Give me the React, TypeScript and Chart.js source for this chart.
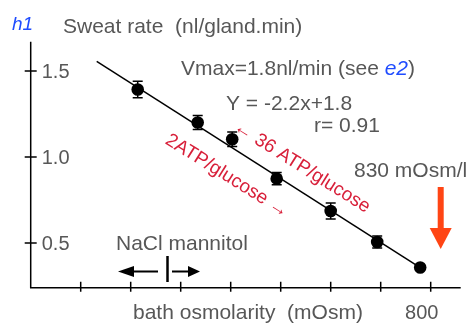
import { useEffect, useRef } from "react";
import { Chart, registerables } from "chart.js";

Chart.register(...registerables);

// ---- data ----
const osmolarity = [214, 334, 403, 492, 600, 693, 779];
const sweatRate = [1.392, 1.2, 1.103, 0.874, 0.686, 0.506, 0.357];
const sweatErr = [0.048, 0.041, 0.042, 0.035, 0.047, 0.035, 0];
const fitX = [132, 779];
const fitY = [1.556, 0.357];
const yTicks = [0.5, 1.0, 1.5];
const yTickLabels = ["0.5", "1.0", "1.5"];
const xTicks = [100, 200, 300, 400, 500, 600, 700, 800];
const xTickLabels = ["", "", "", "", "", "", "", "800"];
const markerOsm = 820;

const FONT = "'Liberation Sans', Arial, Helvetica, sans-serif";
const GRAY = "#575757";
const BLUE = "#1f4cff";
const RED = "#d8203a";
const ORANGE = "#ff4514";

const overlay = {
  id: "overlay",
  beforeDatasetsDraw(chart: any) {
    const ctx = chart.ctx;
    const xs = chart.scales.x;
    const ys = chart.scales.y;
    ctx.save();
    ctx.strokeStyle = "#000";
    ctx.lineWidth = 1.5;
    osmolarity.forEach((x, i) => {
      const e = sweatErr[i];
      if (!e) return;
      const px = xs.getPixelForValue(x);
      const top = ys.getPixelForValue(sweatRate[i] + e);
      const bot = ys.getPixelForValue(sweatRate[i] - e);
      ctx.beginPath();
      ctx.moveTo(px, top);
      ctx.lineTo(px, bot);
      ctx.moveTo(px - 5, top);
      ctx.lineTo(px + 5, top);
      ctx.moveTo(px - 5, bot);
      ctx.lineTo(px + 5, bot);
      ctx.stroke();
    });
    ctx.restore();
  },
  afterDraw(chart: any) {
    const ctx = chart.ctx;
    const xs = chart.scales.x;
    const ys = chart.scales.y;
    const ca = chart.chartArea;
    ctx.save();
    // axes
    ctx.strokeStyle = "#000";
    ctx.lineWidth = 1.5;
    ctx.beginPath();
    ctx.moveTo(ca.left, ca.top);
    ctx.lineTo(ca.left, ca.bottom);
    ctx.lineTo(ca.right, ca.bottom);
    ctx.stroke();
    // x ticks
    ctx.beginPath();
    xTicks.forEach((v) => {
      const px = xs.getPixelForValue(v);
      ctx.moveTo(px, ca.bottom - 6);
      ctx.lineTo(px, ca.bottom + 4);
    });
    // y ticks
    yTicks.forEach((v) => {
      const py = ys.getPixelForValue(v);
      ctx.moveTo(ca.left - 6, py);
      ctx.lineTo(ca.left + 6, py);
    });
    ctx.stroke();

    ctx.fillStyle = GRAY;
    ctx.textBaseline = "alphabetic";
    ctx.font = `20px ${FONT}`;
    ctx.textAlign = "left";
    yTicks.forEach((v, i) => {
      const py = ys.getPixelForValue(v);
      ctx.fillText(yTickLabels[i], ca.left + 11, py + 7);
    });
    ctx.textAlign = "center";
    xTicks.forEach((v, i) => {
      if (!xTickLabels[i]) return;
      const px = xs.getPixelForValue(v);
      ctx.fillText(xTickLabels[i], px - 9, 319);
    });

    ctx.font = `21px ${FONT}`;
    ctx.textAlign = "left";
    ctx.fillText("bath osmolarity  (mOsm)", 133, 319);
    ctx.fillText("Sweat rate  (nl/gland.min)", 63, 33);
    const vm = "Vmax=1.8nl/min (see ";
    ctx.fillText(vm, 181, 75);
    const w = ctx.measureText(vm).width;
    ctx.fillStyle = BLUE;
    ctx.font = `italic 21px ${FONT}`;
    ctx.fillText("e2", 181 + w, 75);
    const w2 = ctx.measureText("e2").width;
    ctx.fillStyle = GRAY;
    ctx.font = `21px ${FONT}`;
    ctx.fillText(")", 181 + w + w2, 75);
    ctx.fillText("Y = -2.2x+1.8", 226, 110);
    ctx.fillText("r= 0.91", 314, 132);
    ctx.fillText("830 mOsm/l", 354, 177);
    ctx.fillText("NaCl mannitol", 116, 250);

    ctx.fillStyle = BLUE;
    ctx.font = `italic 19px ${FONT}`;
    ctx.fillText("h1", 12, 30);

    // red rotated labels
    ctx.fillStyle = RED;
    ctx.font = `19px ${FONT}`;
    ctx.textAlign = "center";
    ctx.textBaseline = "middle";
    const ang = (32 * Math.PI) / 180;
    const rot = (t: string, cx: number, cy: number) => {
      ctx.save();
      ctx.translate(cx, cy);
      ctx.rotate(ang);
      ctx.fillText(t, 0, 0);
      ctx.restore();
    };
    rot("\u2190 36 ATP/glucose", 302, 167);
    rot("2ATP/glucose \u2192", 227, 176);

    // orange arrow at 830 mOsm
    const ax = xs.getPixelForValue(markerOsm);
    ctx.fillStyle = ORANGE;
    ctx.fillRect(ax - 3, 187, 6, 42);
    ctx.beginPath();
    ctx.moveTo(ax - 11, 228);
    ctx.lineTo(ax + 11, 228);
    ctx.lineTo(ax, 249);
    ctx.closePath();
    ctx.fill();

    // NaCl / mannitol arrows
    ctx.fillStyle = "#000";
    ctx.strokeStyle = "#000";
    ctx.lineWidth = 2;
    ctx.beginPath();
    ctx.moveTo(133, 271.5);
    ctx.lineTo(158, 271.5);
    ctx.moveTo(172, 271.5);
    ctx.lineTo(189, 271.5);
    ctx.stroke();
    ctx.lineWidth = 2.5;
    ctx.beginPath();
    ctx.moveTo(167.5, 256);
    ctx.lineTo(167.5, 282);
    ctx.stroke();
    ctx.beginPath();
    ctx.moveTo(118, 271.5);
    ctx.lineTo(134, 266);
    ctx.lineTo(134, 277);
    ctx.closePath();
    ctx.fill();
    ctx.beginPath();
    ctx.moveTo(200, 271.5);
    ctx.lineTo(188, 266);
    ctx.lineTo(188, 277);
    ctx.closePath();
    ctx.fill();
    ctx.restore();
  },
};

export default function App() {
  const ref = useRef<HTMLCanvasElement>(null);
  useEffect(() => {
    if (!ref.current) return;
    const chart = new Chart(ref.current, {
      type: "scatter",
      data: {
        datasets: [
          {
            data: osmolarity.map((x, i) => ({ x, y: sweatRate[i] })),
            backgroundColor: "#000",
            borderWidth: 0,
            pointRadius: 6.3,
            pointHoverRadius: 6.3,
          },
          {
            type: "line",
            data: fitX.map((x, i) => ({ x, y: fitY[i] })),
            borderColor: "#000",
            borderWidth: 1.5,
            pointRadius: 0,
            fill: false,
          } as any,
        ],
      },
      options: {
        responsive: false,
        animation: false,
        layout: { padding: { left: 30.7, right: 10.3, top: 41.7, bottom: 38.3 } },
        plugins: { legend: { display: false }, tooltip: { enabled: false } },
        scales: {
          x: { type: "linear", min: 0, max: 860, display: false },
          y: { type: "linear", min: 0.24, max: 1.67, display: false },
        },
      },
      plugins: [overlay],
    });
    return () => chart.destroy();
  }, []);
  return (
    <div style={{ position: "fixed", left: 0, top: 0, width: 471, height: 326, background: "#fff" }}>
      <canvas ref={ref} width={471} height={326} style={{ width: 471, height: 326 }} />
    </div>
  );
}
